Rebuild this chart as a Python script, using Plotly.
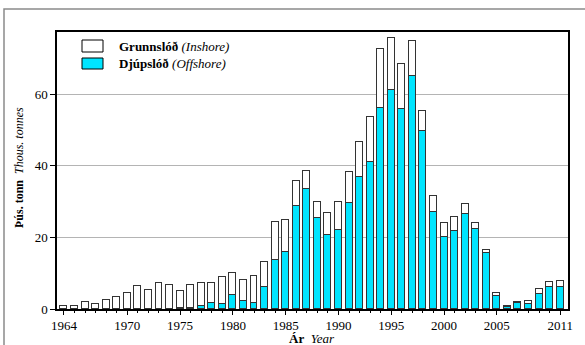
import plotly.graph_objects as go

years = list(range(1964, 2012))
offshore = [0, 0, 0, 0, 0, 0, 0, 0, 0, 0, 0,
            0.3, 0.3, 0.75, 1.6, 1.5, 3.8, 2.15, 1.6, 6.05, 13.6, 15.9,
            28.85, 33.4, 25.3, 20.7, 22.1, 29.55, 37.0, 41.2, 56.1, 61.2,
            55.9, 65.2, 49.6, 27.0, 20.1, 21.7, 26.6, 22.3, 15.6, 3.6,
            0.6, 1.6, 1.3, 4.1, 6.2, 6.1]
inshore = [0.7, 0.95, 1.85, 1.45, 2.45, 3.3, 4.4, 6.3, 5.35, 7.25, 6.6,
           4.65, 6.5, 6.4, 5.55, 7.35, 6.15, 5.95, 7.5, 7.05, 10.85, 9.0,
           7.05, 5.3, 4.55, 6.05, 7.8, 8.65, 9.8, 12.5, 16.6, 14.6,
           12.5, 9.6, 5.8, 4.5, 3.9, 4.0, 2.7, 1.7, 0.8, 0.9,
           0.25, 0.4, 0.8, 1.4, 1.3, 1.6]
tick_years = [1964, 1970, 1975, 1980, 1985, 1990, 1995, 2000, 2005, 2011]
y_ticks = [0, 20, 40, 60]

FONT = "Liberation Serif, Times New Roman, Times, serif"
CYAN = "#00E5FF"
OUTLINE = "#333333"

W, H = 585, 345
L, R, T, B = 57, 17, 32, 36
pw, ph = W - L - R, H - T - B


def px(x):
    return (x - L) / pw


def py(y):
    return (H - B - y) / ph


fig = go.Figure()
fig.add_trace(go.Bar(x=years, y=offshore, name="Djúpslóð",
                     marker=dict(color=CYAN, line=dict(color=OUTLINE, width=1.2)),
                     width=0.66, showlegend=False))
fig.add_trace(go.Bar(x=years, y=inshore, name="Grunnslóð",
                     marker=dict(color="white", line=dict(color=OUTLINE, width=1.2)),
                     width=0.66, showlegend=False))

shapes = [
    # outer frame
    dict(type="rect", xref="paper", yref="paper", x0=px(4), x1=px(600),
         y0=py(360), y1=py(9), line=dict(color="#8a8a8a", width=1.5), layer="above"),
    # legend swatches
    dict(type="rect", xref="paper", yref="paper", x0=px(82), x1=px(103),
         y0=py(52), y1=py(40), fillcolor="white", line=dict(color="black", width=1)),
    dict(type="rect", xref="paper", yref="paper", x0=px(82), x1=px(103),
         y0=py(69), y1=py(58), fillcolor=CYAN, line=dict(color="black", width=1)),
]

annotations = [
    dict(xref="paper", yref="paper", x=px(117), y=py(46), xanchor="left", yanchor="middle",
         text="<b>Grunnslóð</b> <i>(Inshore)</i>", showarrow=False,
         font=dict(family=FONT, size=13, color="black")),
    dict(xref="paper", yref="paper", x=px(117), y=py(63.5), xanchor="left", yanchor="middle",
         text="<b>Djúpslóð</b> <i>(Offshore)</i>", showarrow=False,
         font=dict(family=FONT, size=13, color="black")),
    dict(xref="paper", yref="paper", x=px(19), y=py(168), xanchor="center", yanchor="middle",
         text="<b>Þús. tonn</b>  <i>Thous. tonnes</i>", textangle=-90, showarrow=False,
         font=dict(family=FONT, size=12, color="black")),
    dict(xref="paper", yref="paper", x=px(312), y=py(338.5), xanchor="center", yanchor="middle",
         text="<b>Ár</b>  <i>Year</i>", showarrow=False,
         font=dict(family=FONT, size=13, color="black")),
]

fig.update_layout(
    width=W, height=H,
    margin=dict(l=L, r=R, t=T, b=B, pad=0),
    barmode="stack",
    bargap=0,
    plot_bgcolor="white", paper_bgcolor="white",
    font=dict(family=FONT, size=13, color="black"),
    shapes=shapes, annotations=annotations,
    xaxis=dict(range=[1963.34, 2011.74], tickmode="array", tickvals=tick_years,
               ticktext=[str(v) for v in tick_years],
               ticks="outside", ticklen=4, tickwidth=1, tickcolor="black",
               minor=dict(tickmode="array", tickvals=years, ticklen=2.5,
                          tickcolor="black", tickwidth=1, ticks="outside", showgrid=False),
               showline=True, linecolor="black", linewidth=1.5, mirror=True,
               showgrid=False, zeroline=False,
               tickfont=dict(family=FONT, size=13, color="black")),
    yaxis=dict(range=[0, 77.4], tickmode="array", tickvals=y_ticks,
               ticks="outside", ticklen=5, tickcolor="black",
               showline=True, linecolor="black", linewidth=1.5, mirror=True,
               showgrid=True, gridcolor="#b4b4b4", gridwidth=1.2, zeroline=False,
               tickfont=dict(family=FONT, size=13, color="black")),
)

fig.write_html("out.html", config={"displayModeBar": False},
               post_script="document.body.style.margin='0';document.body.style.overflow='hidden';")
